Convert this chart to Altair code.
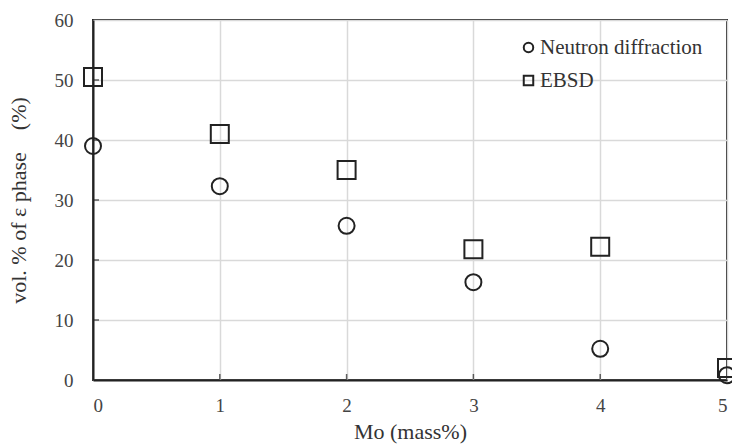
import altair as alt
import pandas as pd

mo = [0, 1, 2, 3, 4, 5]
neutron = [39.0, 32.3, 25.7, 16.3, 5.2, 0.8]
ebsd = [50.5, 41.0, 35.0, 21.8, 22.2, 2.0]
series_names = ["Neutron diffraction", "EBSD"]
x_ticks = [0, 1, 2, 3, 4, 5]
y_ticks = [0, 10, 20, 30, 40, 50, 60]

df = pd.DataFrame({
    "Mo": mo * 2,
    "vol": neutron + ebsd,
    "series": [series_names[0]] * len(mo) + [series_names[1]] * len(mo),
})

font = "Liberation Serif"
xscale = alt.Scale(domain=[0, 5], nice=False, zero=True)
yscale = alt.Scale(domain=[0, 60], nice=False)
xaxis = alt.Axis(values=x_ticks, format="d", title="Mo (mass%)", labelPadding=16, titlePadding=6)
yaxis = alt.Axis(values=y_ticks, title="vol. % of ε phase\u00a0\u00a0\u00a0\u00a0(%)",
                 labelPadding=20, titlePadding=24)

base = alt.Chart(df).encode(
    x=alt.X("Mo:Q", scale=xscale, axis=xaxis),
    y=alt.Y("vol:Q", scale=yscale, axis=yaxis),
    shape=alt.Shape("series:N", scale=alt.Scale(domain=series_names, range=["circle", "square"]),
                    legend=alt.Legend(orient="none", legendX=425, legendY=17, title=None,
                                      symbolSize=90, symbolStrokeWidth=2, symbolStrokeColor="#222222",
                                      symbolFillColor="transparent", labelLimit=400,
                                      labelFont=font, labelFontSize=21, labelColor="#333333",
                                      rowPadding=11, labelOffset=1)),
)

circles = base.transform_filter(alt.datum.series == series_names[0]).mark_point(
    filled=False, strokeWidth=2, color="#222222", opacity=1, size=256)
squares = base.transform_filter(alt.datum.series == series_names[1]).mark_point(
    filled=False, strokeWidth=2, color="#222222", opacity=1, size=324)

ytick_df = pd.DataFrame({"vol": y_ticks[1:-1]})
xtick_df = pd.DataFrame({"Mo": x_ticks[1:-1]})
yt = alt.Chart(ytick_df).mark_tick(orient="horizontal", size=5, thickness=1.5, color="#222222").encode(
    y=alt.Y("vol:Q", scale=yscale, axis=yaxis), x=alt.value(3.5))
xt = alt.Chart(xtick_df).mark_tick(orient="vertical", size=5, thickness=1.5, color="#222222").encode(
    x=alt.X("Mo:Q", scale=xscale, axis=xaxis), y=alt.value(356.5))

chart = alt.layer(circles, squares, yt, xt).properties(
    width=634, height=360,
    autosize=alt.AutoSizeParams(type="none"),
    padding={"left": 93, "top": 20, "right": 5, "bottom": 66},
).configure_view(
    stroke="#222222", strokeWidth=2
).configure_axis(
    domainColor="#222222", domainWidth=2,
    gridColor="#d9d9d9", gridWidth=1.5,
    ticks=False,
    labelFont=font, labelFontSize=19, labelColor="#444444",
    titleFont=font, titleFontSize=22, titleFontWeight="normal", titleColor="#333333",
)

chart.save("out.html", embed_options={"renderer": "svg", "actions": False})
